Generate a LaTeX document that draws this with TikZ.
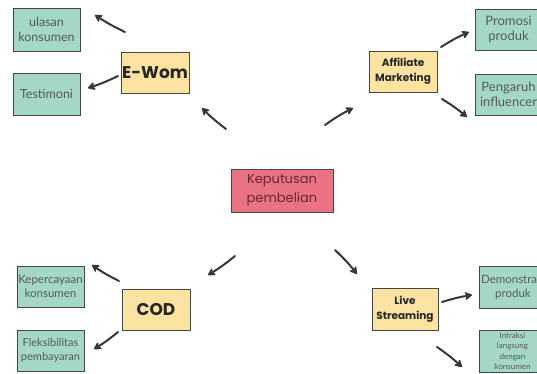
\documentclass[tikz,border=0pt]{standalone}
\usepackage{fontspec}
\setmainfont{Lato}
\newfontfamily\popf{Poppins}
\newfontfamily\latf{Lato}
\usetikzlibrary{arrows.meta}
\definecolor{boxyellow}{RGB}{251,228,161}
\definecolor{boxteal}{RGB}{164,216,197}
\definecolor{boxpink}{RGB}{233,115,130}
\definecolor{pinktext}{RGB}{105,38,55}
\definecolor{edgegray}{RGB}{70,70,70}
\definecolor{arrowgray}{RGB}{55,55,55}
\definecolor{subtext}{RGB}{85,90,88}
\tikzset{
  base/.style={draw=edgegray, line width=0.6pt, align=center, inner sep=0pt, minimum width=67pt, minimum height=42pt},
  mainbox/.style={base, fill=boxyellow, text=black!85, font=\popf\bfseries},
  subbox/.style={base, fill=boxteal, text=subtext, font=\latf\fontsize{12.5}{15}\selectfont},
  centerbox/.style={base, fill=boxpink, text=pinktext, minimum width=102pt, minimum height=43pt, font=\popf\fontsize{13}{19}\selectfont},
  arr/.style={draw=arrowgray, line width=2pt, line cap=round, -{Stealth[length=9pt,width=10pt,inset=3pt,round]}}
}
\begin{document}
\begin{tikzpicture}[x=1pt,y=-1pt]
\useasboundingbox (0,0) rectangle (537,373);
\clip (0,0) rectangle (537,373);
\fill[white] (0,0) rectangle (537,373);
% center
\node[centerbox] (center) at (282,190.5) {Keputusan\\pembelian};
% E-Wom
\node[mainbox, font=\popf\bfseries\fontsize{17}{20}\selectfont, minimum width=68pt, minimum height=41pt] (ewom) at (155,72.5) {E-Wom};
\node[subbox, minimum height=43pt] (ulasan) at (46.5,29.5) {ulasan\\konsumen};
\node[subbox] (testi) at (46.5,94) {Testimoni};
% Affiliate
\node[mainbox, font=\popf\bfseries\fontsize{10.5}{15}\selectfont, minimum width=68pt, minimum height=41pt] (aff) at (403,71.5) {Affiliate\\Marketing};
\node[subbox, font=\latf\fontsize{13}{15.5}\selectfont, minimum height=41pt] (promosi) at (508.5,29.5) {Promosi\\produk};
\node[subbox, font=\latf\fontsize{13}{15.5}\selectfont, minimum height=41pt] (pengaruh) at (508.5,94.5) {Pengaruh\\influencer};
% COD
\node[mainbox, font=\popf\bfseries\fontsize{17}{20}\selectfont, minimum width=68pt, minimum height=41pt] (cod) at (156,309.5) {COD};
\node[subbox, font=\latf\fontsize{11.5}{14.5}\selectfont, minimum height=41pt] (keper) at (50.5,286.5) {Kepercayaan\\konsumen};
\node[subbox, font=\latf\fontsize{11}{14.5}\selectfont, minimum height=41pt] (fleks) at (50.5,350.5) {Fleksibilitas\\pembayaran};
% Live Streaming
\node[mainbox, font=\popf\bfseries\fontsize{10.5}{15}\selectfont, minimum width=66pt] (live) at (405,309) {Live\\Streaming};
\node[subbox, font=\latf\fontsize{11.5}{14}\selectfont] (demo) at (513,287) {Demonstrasi\\produk};
\node[subbox, font=\latf\fontsize{8}{10.5}\selectfont] (intraksi) at (512.5,351) {Intraksi\\langsung\\dengan\\konsumen};
% arrow end points
\coordinate (c1s) at (226,129); \coordinate (c1e) at (202,108);
\coordinate (c2s) at (325,125); \coordinate (c2e) at (353,108);
\coordinate (c3s) at (235,256); \coordinate (c3e) at (208,275);
\coordinate (c4s) at (335,250); \coordinate (c4e) at (357,274);
\coordinate (e1s) at (125,32); \coordinate (e1e) at (95,15);
\coordinate (e2s) at (118,76); \coordinate (e2e) at (88,88);
\coordinate (a1s) at (441,47); \coordinate (a1e) at (469,32);
\coordinate (a2s) at (442,99); \coordinate (a2e) at (467,117);
\coordinate (d1s) at (119,281); \coordinate (d1e) at (92,265);
\coordinate (d2s) at (118,332); \coordinate (d2e) at (94,349);
\coordinate (l1s) at (442,302); \coordinate (l1e) at (472,295);
\coordinate (l2s) at (437,347); \coordinate (l2e) at (462,367);
\foreach \s in {c1,c2,c3,c4,e1,e2,a1,a2,d1,d2,l1,l2}{
  \draw[arr] (\s s) to[bend left=4] (\s e);
}
\end{tikzpicture}
\end{document}
